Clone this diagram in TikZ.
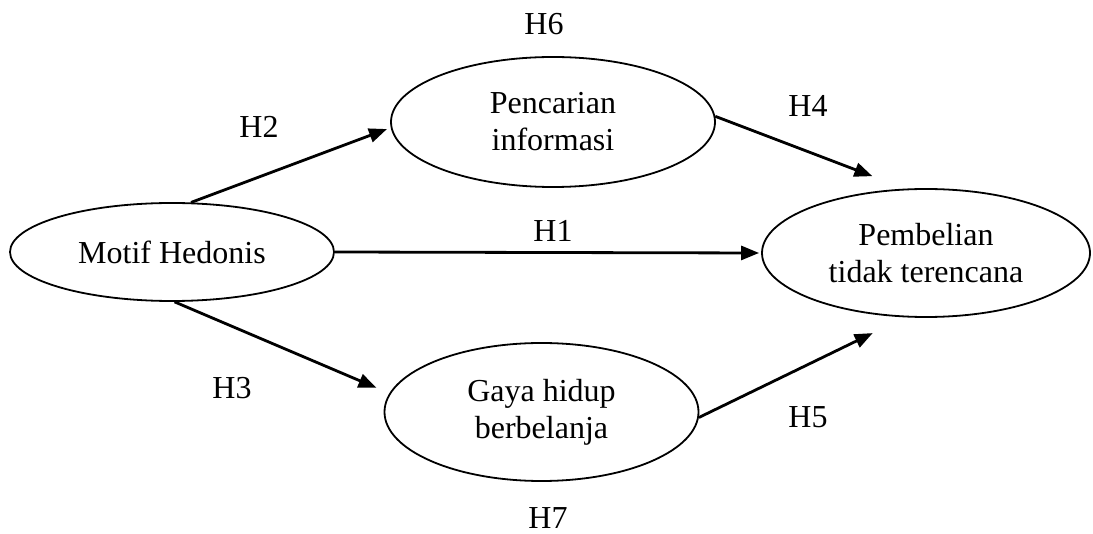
\documentclass[tikz,border=0pt]{standalone}
\usepackage{fontspec}
\setmainfont{Liberation Serif}
\usetikzlibrary{shapes.geometric,arrows.meta}
\begin{document}
\begin{tikzpicture}[x=1pt,y=-1pt,
  every node/.style={font=\fontsize{32}{37}\selectfont},
  var/.style={ellipse,draw,line width=1.8pt,inner sep=0pt,align=center},
  lab/.style={inner sep=0pt,anchor=base,text depth=0pt},
  arr/.style={line width=2.8pt,-{Triangle[length=18pt,width=14pt]}}]
\useasboundingbox (0,0) rectangle (1093,534);
\node[var,minimum width=324pt,minimum height=98pt] (m) at (172,252) {Motif Hedonis};
\node[var,minimum width=324pt,minimum height=130pt] (p) at (553,122) {Pencarian\\informasi};
\node[var,minimum width=314pt,minimum height=138pt] (g) at (541.5,412) {Gaya hidup\\berbelanja};
\node[var,minimum width=328pt,minimum height=128pt] (b) at (926,253) {Pembelian\\tidak terencana};
\draw[arr,shorten >=4pt] (m.69) -- (p.182.4);
\draw[arr,shorten >=14pt] (m.273) -- (g.173.4);
\draw[arr,shorten >=2pt] (m.east) -- (b.west);
\draw[arr,shorten >=35pt] (p.2) -- (b.108);
\draw[arr,shorten >=36pt] (g.358.2) -- (b.252.7);
\node[lab] (h6) at (544,35) {H6};
\node[lab] (h2) at (259,138) {H2};
\node[lab] (h4) at (808,117) {H4};
\node[lab] (h1) at (553,242) {H1};
\node[lab] (h3) at (232,399) {H3};
\node[lab] (h5) at (808,428) {H5};
\node[lab] (h7) at (548,529) {H7};
\end{tikzpicture}
\end{document}
